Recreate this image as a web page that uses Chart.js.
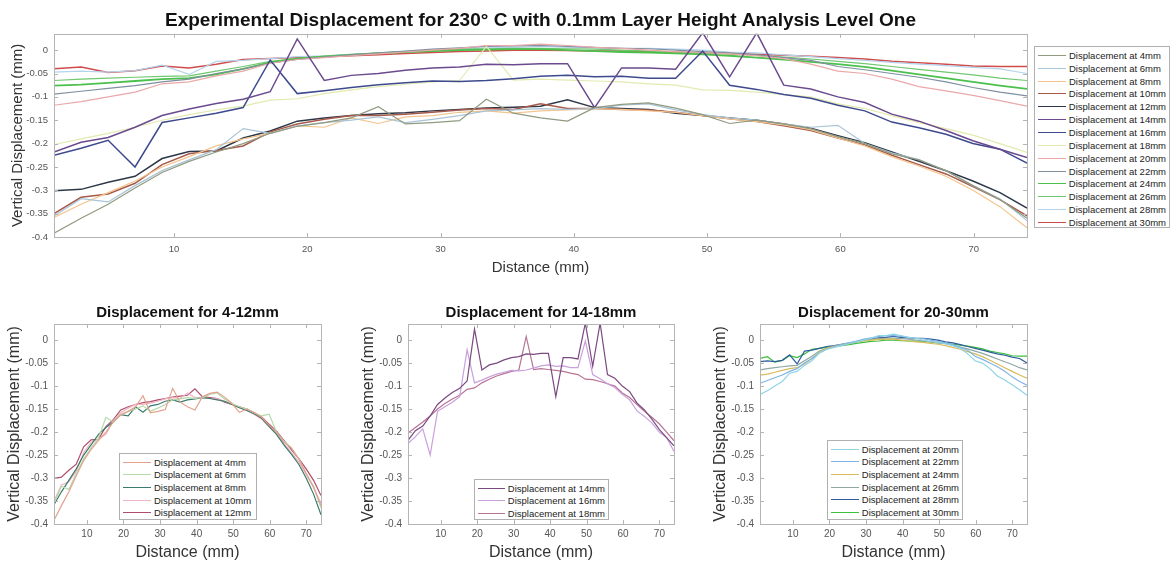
<!DOCTYPE html>
<html lang="en">
<head>
<meta charset="UTF-8" />
<title>Experimental Displacement 230 C</title>
<script src="https://cdn.jsdelivr.net/npm/chart.js"></script>
<style>
  body { margin: 0; background: #fff; font-family: "Liberation Sans", Arial, sans-serif; }
  .wrap { position: relative; width: 1171px; height: 566px; overflow: hidden; }
  canvas { position: absolute; }
  .legend { position: absolute; background: #fff; border: 1px solid #b0b0b0; font-size: 9.5px; color: #222; box-sizing: border-box; padding: 2px 3px; z-index: 5; }
  .legend div { display: flex; align-items: center; white-space: nowrap; }
  .legend .ln { display: inline-block; width: 28px; height: 0; border-top: 1.5px solid; margin-right: 3px; }
</style>
</head>
<body>
<div class="wrap">
  <canvas id="topChart" width="1030" height="290" style="left:0;top:0;width:1030px;height:290px"></canvas>
  <canvas id="p1" width="324" height="276" style="left:0;top:290px;width:324px;height:276px"></canvas>
  <canvas id="p2" width="323" height="276" style="left:354px;top:290px;width:323px;height:276px"></canvas>
  <canvas id="p3" width="324" height="276" style="left:706px;top:290px;width:324px;height:276px"></canvas>
  <div class="legend" id="legTop" style="left:1034px;top:46px;width:136px;height:182px"></div>
  <div class="legend" id="leg1" style="left:119px;top:453px;width:138px;height:67px"></div>
  <div class="legend" id="leg2" style="left:474px;top:479px;width:135px;height:41px"></div>
  <div class="legend" id="leg3" style="left:827px;top:440px;width:136px;height:80px"></div>
</div>

<script>
// distance along the part (mm)
const distance = [1, 3.03, 5.06, 7.08, 9.11, 11.14, 13.17, 15.19, 17.22, 19.25, 21.28, 23.31, 25.33, 27.36, 29.39,
  31.42, 33.44, 35.47, 37.5, 39.53, 41.56, 43.58, 45.61, 47.64, 49.67, 51.69, 53.72, 55.75, 57.78, 59.81,
  61.83, 63.86, 65.89, 67.92, 69.94, 71.97, 74];

// vertical displacement (mm), one list per measuring height
const d4 = [-0.392, -0.36, -0.33, -0.295, -0.262, -0.238, -0.218, -0.2, -0.178, -0.163, -0.155, -0.145, -0.121, -0.158, -0.155,
  -0.151, -0.105, -0.135, -0.145, -0.152, -0.123, -0.116, -0.113, -0.124, -0.138, -0.157, -0.15, -0.158, -0.168, -0.185,
  -0.2, -0.222, -0.235, -0.258, -0.29, -0.32, -0.36];
const d6 = [-0.355, -0.318, -0.325, -0.29, -0.258, -0.235, -0.213, -0.168, -0.178, -0.162, -0.155, -0.15, -0.143, -0.155, -0.148,
  -0.14, -0.13, -0.128, -0.125, -0.127, -0.125, -0.118, -0.115, -0.128, -0.138, -0.145, -0.15, -0.158, -0.165, -0.161,
  -0.2, -0.22, -0.234, -0.258, -0.29, -0.318, -0.365];
const d8 = [-0.358, -0.33, -0.305, -0.28, -0.25, -0.228, -0.205, -0.19, -0.178, -0.162, -0.165, -0.145, -0.157, -0.143, -0.14,
  -0.133, -0.13, -0.135, -0.13, -0.128, -0.125, -0.127, -0.13, -0.133, -0.14, -0.147, -0.153, -0.16, -0.17, -0.188,
  -0.205, -0.228, -0.248, -0.27, -0.3, -0.335, -0.38];
const d10 = [-0.35, -0.315, -0.308, -0.285, -0.245, -0.222, -0.215, -0.205, -0.175, -0.158, -0.148, -0.14, -0.14, -0.137, -0.133,
  -0.128, -0.125, -0.127, -0.115, -0.125, -0.125, -0.127, -0.128, -0.133, -0.14, -0.147, -0.153, -0.162, -0.172, -0.188,
  -0.203, -0.225, -0.245, -0.265, -0.292, -0.32, -0.355];
const d12 = [-0.301, -0.298, -0.283, -0.27, -0.232, -0.217, -0.216, -0.188, -0.173, -0.152, -0.145, -0.14, -0.136, -0.134, -0.13,
  -0.127, -0.124, -0.122, -0.12, -0.106, -0.123, -0.125, -0.127, -0.135, -0.14, -0.145, -0.15, -0.158, -0.167, -0.183,
  -0.198, -0.218, -0.238, -0.258, -0.28, -0.305, -0.338];
const d14 = [-0.218, -0.197, -0.187, -0.165, -0.14, -0.126, -0.114, -0.105, -0.089, 0.024, -0.065, -0.054, -0.05, -0.043, -0.038,
  -0.036, -0.03, -0.031, -0.029, -0.029, -0.123, -0.038, -0.038, -0.041, 0.037, -0.057, 0.037, -0.075, -0.083, -0.1,
  -0.112, -0.137, -0.152, -0.172, -0.194, -0.212, -0.23];
const d16 = [-0.225, -0.21, -0.193, -0.25, -0.155, -0.145, -0.135, -0.123, -0.021, -0.093, -0.087, -0.08, -0.074, -0.07, -0.066,
  -0.067, -0.065, -0.061, -0.056, -0.054, -0.057, -0.056, -0.06, -0.06, -0.002, -0.075, -0.084, -0.095, -0.103, -0.118,
  -0.13, -0.154, -0.166, -0.18, -0.2, -0.212, -0.242];
const d18 = [-0.202, -0.19, -0.178, -0.165, -0.15, -0.138, -0.128, -0.12, -0.107, -0.104, -0.093, -0.085, -0.078, -0.073, -0.068,
  -0.065, 0.008, -0.064, -0.062, -0.064, -0.066, -0.068, -0.072, -0.075, -0.085, -0.086, -0.09, -0.095, -0.1, -0.115,
  -0.125, -0.14, -0.155, -0.168, -0.182, -0.2, -0.219];
const d20 = [-0.118, -0.11, -0.1, -0.09, -0.072, -0.068, -0.055, -0.045, -0.028, -0.02, -0.016, -0.012, -0.008, -0.004, 0.0,
  0.004, 0.01, 0.01, 0.013, 0.01, 0.006, 0.004, 0.0, -0.003, -0.005, -0.008, -0.012, -0.018, -0.03, -0.045,
  -0.05, -0.062, -0.078, -0.087, -0.097, -0.108, -0.12];
const d22 = [-0.094, -0.088, -0.082, -0.076, -0.068, -0.062, -0.05, -0.04, -0.028, -0.02, -0.015, -0.01, -0.006, -0.002, 0.002,
  0.005, 0.008, 0.009, 0.01, 0.008, 0.006, 0.004, 0.003, 0.0, -0.003, -0.006, -0.01, -0.016, -0.022, -0.035,
  -0.042, -0.05, -0.058, -0.068, -0.08, -0.09, -0.098];
const d24 = [-0.076, -0.074, -0.07, -0.066, -0.062, -0.06, -0.052, -0.04, -0.026, -0.018, -0.014, -0.01, -0.007, -0.004, -0.002,
  0.0, 0.001, 0.002, 0.002, 0.0, -0.002, -0.004, -0.005, -0.007, -0.009, -0.012, -0.016, -0.02, -0.025, -0.03,
  -0.036, -0.044, -0.052, -0.06, -0.068, -0.076, -0.083];
const d26 = [-0.065, -0.062, -0.06, -0.058, -0.056, -0.055, -0.045, -0.035, -0.024, -0.018, -0.013, -0.009, -0.006, -0.003, 0.0,
  0.002, 0.003, 0.004, 0.004, 0.003, 0.002, 0.0, -0.002, -0.004, -0.006, -0.008, -0.011, -0.015, -0.019, -0.024,
  -0.029, -0.035, -0.041, -0.047, -0.053, -0.06, -0.065];
const d28 = [-0.047, -0.045, -0.047, -0.044, -0.032, -0.052, -0.024, -0.022, -0.018, -0.014, -0.012, -0.009, -0.007, -0.004, 0.0,
  0.002, 0.005, 0.006, 0.008, 0.006, 0.005, 0.004, 0.004, 0.002, 0.0, -0.004, -0.006, -0.01, -0.014, -0.018,
  -0.022, -0.026, -0.03, -0.033, -0.037, -0.04, -0.05];
const d30 = [-0.04, -0.036, -0.048, -0.044, -0.034, -0.038, -0.03, -0.02, -0.018, -0.016, -0.014, -0.012, -0.01, -0.007, -0.005,
  -0.003, -0.002, 0.0, 0.0, -0.001, -0.002, -0.002, -0.003, -0.004, -0.006, -0.007, -0.009, -0.011, -0.013, -0.016,
  -0.019, -0.024, -0.027, -0.03, -0.034, -0.035, -0.035];

const xTickValues = [10, 20, 30, 40, 50, 60, 70];
const yTickValues = [-0.4, -0.35, -0.3, -0.25, -0.2, -0.15, -0.1, -0.05, 0];

const allSeries = [
  ['Displacement at 4mm', d4, '#8f9a80'], ['Displacement at 6mm', d6, '#a9c4d6'],
  ['Displacement at 8mm', d8, '#f3c58e'], ['Displacement at 10mm', d10, '#a85a4a'],
  ['Displacement at 12mm', d12, '#2e3848'], ['Displacement at 14mm', d14, '#6b4a8e'],
  ['Displacement at 16mm', d16, '#3e4a8e'], ['Displacement at 18mm', d18, '#e3eab0'],
  ['Displacement at 20mm', d20, '#eaa8a8'], ['Displacement at 22mm', d22, '#7f8fa0'],
  ['Displacement at 24mm', d24, '#4cc04c'], ['Displacement at 26mm', d26, '#70c870'],
  ['Displacement at 28mm', d28, '#b4d4ec'], ['Displacement at 30mm', d30, '#d04c4c']
];
const group1 = [['Displacement at 4mm', d4, '#e3a28e'], ['Displacement at 6mm', d6, '#b5d9a8'],
  ['Displacement at 8mm', d8, '#3b7a6e'], ['Displacement at 10mm', d10, '#f0b4c4'], ['Displacement at 12mm', d12, '#b04c6c']];
const group2 = [['Displacement at 14mm', d14, '#7a4a80'], ['Displacement at 16mm', d16, '#c9a0dc'],
  ['Displacement at 18mm', d18, '#b87494']];
const group3 = [['Displacement at 20mm', d20, '#8fd4e4'], ['Displacement at 22mm', d22, '#7fb4e4'],
  ['Displacement at 24mm', d24, '#d8bc5c'], ['Displacement at 26mm', d26, '#8fa8a4'],
  ['Displacement at 28mm', d28, '#2c5c9c'], ['Displacement at 30mm', d30, '#3cc03c']];

const FONT = '"Liberation Sans", Arial, sans-serif';

// MATLAB style box with inward ticks on all four sides
const matlabBox = {
  id: 'matlabBox',
  afterDatasetsDraw(chart) {
    const {ctx, chartArea: a, scales: {x, y}} = chart;
    const t = 4;
    ctx.save();
    ctx.strokeStyle = '#b4b4b4';
    ctx.lineWidth = 1;
    ctx.beginPath();
    x.ticks.forEach(tk => {
      const px = Math.round(x.getPixelForValue(tk.value)) + 0.5;
      ctx.moveTo(px, a.bottom); ctx.lineTo(px, a.bottom - t);
      ctx.moveTo(px, a.top); ctx.lineTo(px, a.top + t);
    });
    y.ticks.forEach(tk => {
      const py = Math.round(y.getPixelForValue(tk.value)) + 0.5;
      ctx.moveTo(a.left, py); ctx.lineTo(a.left + t, py);
      ctx.moveTo(a.right, py); ctx.lineTo(a.right - t, py);
    });
    ctx.stroke();
    ctx.strokeRect(Math.round(a.left) + 0.5, Math.round(a.top) + 0.5, Math.round(a.right - a.left), Math.round(a.bottom - a.top));
    ctx.restore();
  }
};

function makeChart(id, series, o) {
  const datasets = series.map(s => ({
    label: s[0],
    data: distance.map((x, i) => ({x: x, y: s[1][i]})),
    borderColor: s[2],
    borderWidth: s[3] || 1.2,
    pointRadius: 0,
    tension: 0,
    fill: false
  }));
  return new Chart(document.getElementById(id), {
    type: 'line',
    data: {datasets: datasets},
    plugins: [matlabBox],
    options: {
      responsive: false,
      animation: false,
      layout: {padding: {left: 0, right: 3, top: 0, bottom: o.padBottom}},
      plugins: {
        legend: {display: false},
        tooltip: {enabled: false},
        title: {
          display: true, text: o.title, fullSize: false, color: '#111',
          font: {family: FONT, size: o.titleSize, weight: 'bold', lineHeight: 1.2},
          padding: {top: o.titleTop, bottom: o.titleBottom}
        }
      },
      scales: {
        x: {
          type: 'linear', min: 1, max: 74,
          grid: {display: false, drawTicks: false}, border: {display: false},
          afterBuildTicks: s => { s.ticks = xTickValues.map(v => ({value: v})); },
          afterFit: s => { s.height = o.xHeight; },
          ticks: {color: '#555', padding: o.xTickPad, font: {family: FONT, size: o.tickSize}, maxRotation: 0,
            callback: v => String(v)},
          title: {display: true, text: 'Distance (mm)', color: '#333', padding: 0,
            font: {family: FONT, size: o.axisTitleSize, lineHeight: 1.2}}
        },
        y: {
          min: -0.4, max: 0.035,
          grid: {display: false, drawTicks: false}, border: {display: false},
          afterBuildTicks: s => { s.ticks = yTickValues.map(v => ({value: v})); },
          afterFit: s => { s.width = 54; },
          ticks: {color: '#555', padding: 6, font: {family: FONT, size: o.tickSize},
            callback: v => { const r = Math.round(v * 100) / 100; return r === 0 ? '0' : String(r); }},
          title: {display: true, text: 'Vertical Displacement (mm)', color: '#333', padding: {top: o.yTitleTop, bottom: 0},
            font: {family: FONT, size: o.axisTitleSize, lineHeight: 1.2}}
        }
      }
    }
  });
}

function makeLegend(id, series, rowH) {
  const box = document.getElementById(id);
  series.forEach(s => {
    const row = document.createElement('div');
    row.style.height = rowH + 'px';
    row.innerHTML = '<span class="ln" style="border-color:' + s[2] + '"></span>' + s[0];
    box.appendChild(row);
  });
}

// thicker lines for a few of the top plot series, like the original
allSeries[3][3] = 1.5; allSeries[4][3] = 1.5; allSeries[5][3] = 1.5; allSeries[6][3] = 1.5;
allSeries[10][3] = 1.8; allSeries[13][3] = 1.5;

makeChart('topChart', allSeries, {
  title: 'Experimental Displacement for 230\u00B0 C with 0.1mm Layer Height Analysis Level One',
  titleSize: 19, titleTop: 9, titleBottom: 2, padBottom: 13, xHeight: 40, xTickPad: 7,
  tickSize: 9.5, axisTitleSize: 15, yTitleTop: 9
});
makeChart('p1', group1, {title: 'Displacement for 4-12mm', titleSize: 15, titleTop: 14, titleBottom: 2,
  padBottom: 4, xHeight: 38, xTickPad: 4, tickSize: 10, axisTitleSize: 16, yTitleTop: 5});
makeChart('p2', group2, {title: 'Displacement for 14-18mm', titleSize: 15, titleTop: 14, titleBottom: 2,
  padBottom: 4, xHeight: 38, xTickPad: 4, tickSize: 10, axisTitleSize: 16, yTitleTop: 5});
makeChart('p3', group3, {title: 'Displacement for 20-30mm', titleSize: 15, titleTop: 14, titleBottom: 2,
  padBottom: 4, xHeight: 38, xTickPad: 4, tickSize: 10, axisTitleSize: 16, yTitleTop: 5});

makeLegend('legTop', allSeries, 12.85);
makeLegend('leg1', group1, 12.6);
makeLegend('leg2', group2, 12.6);
makeLegend('leg3', group3, 12.6);
</script>
</body>
</html>
